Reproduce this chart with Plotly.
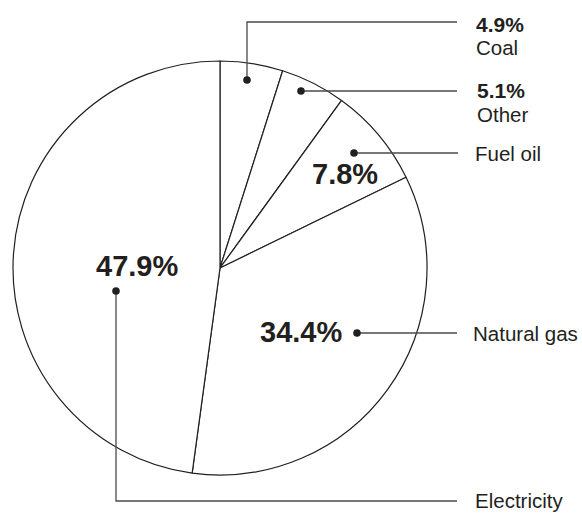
import plotly.graph_objects as go

# Share of household energy use by source, clockwise from 12 o'clock
sources = ["Coal", "Other", "Fuel oil", "Natural gas", "Electricity"]
shares = [4.9, 5.1, 7.8, 34.4, 47.9]

W, H = 582, 514
INK = "#231f20"
LEADER = "#4a4a4a"
FONT = "Liberation Sans, Arial, Helvetica, sans-serif"


def fx(x):
    return x / W


def fy(y):
    return 1 - y / H


# Pie placement (pixels): centre and radius
CX, CY, R = 220, 268, 207

# Callout geometry per source: dot, leader path, label anchor,
# and where the value is printed ("side" = next to the name, else inside the pie)
callouts = {
    "Coal": dict(path=[(247, 80), (247, 22), (457, 22)], name_at=(474, 47),
                 value_at=(474, 24), value_side=True),
    "Other": dict(path=[(301, 91), (457, 91)], name_at=(475, 115),
                  value_at=(475, 90.5), value_side=True),
    "Fuel oil": dict(path=[(354, 153), (458, 153)], name_at=(473, 153),
                     value_at=(344.7, 174), value_side=False),
    "Natural gas": dict(path=[(357, 333), (457, 333)], name_at=(471, 333),
                        value_at=(300.6, 332), value_side=False),
    "Electricity": dict(path=[(116, 291), (116, 501), (457, 501)], name_at=(473, 500),
                        value_at=(136.5, 265.5), value_side=False),
}

fig = go.Figure(
    go.Pie(
        labels=sources,
        values=shares,
        sort=False,
        direction="clockwise",
        rotation=0,
        textinfo="none",
        hoverinfo="label+percent",
        marker=dict(colors=["white"] * len(sources), line=dict(color=INK, width=1.2)),
        domain=dict(x=[fx(CX - R), fx(CX + R)], y=[fy(CY + R), fy(CY - R)]),
        showlegend=False,
    )
)

shapes = []
annotations = []
for src, val in zip(sources, shares):
    c = callouts[src]
    pts = c["path"]
    d = "M " + " L ".join(f"{fx(x)},{fy(y)}" for x, y in pts)
    shapes.append(dict(type="path", path=d, xref="paper", yref="paper",
                       line=dict(color=LEADER, width=1.3)))
    dx, dy = pts[0]
    r = 3.8
    shapes.append(dict(type="circle", xref="paper", yref="paper",
                       x0=fx(dx - r), x1=fx(dx + r), y0=fy(dy + r), y1=fy(dy - r),
                       fillcolor=INK, line=dict(color=INK, width=0)))

    nx, ny = c["name_at"]
    annotations.append(dict(x=fx(nx), y=fy(ny), xref="paper", yref="paper",
                            text=src, showarrow=False, xanchor="left", yanchor="middle",
                            font=dict(family=FONT, size=20.5, color=INK)))

    vx, vy = c["value_at"]
    label = f"<b>{val:.1f}%</b>"
    if c["value_side"]:
        annotations.append(dict(x=fx(vx), y=fy(vy), xref="paper", yref="paper",
                                text=label, showarrow=False, xanchor="left", yanchor="middle",
                                font=dict(family=FONT, size=21, color=INK)))
    else:
        annotations.append(dict(x=fx(vx), y=fy(vy), xref="paper", yref="paper",
                                text=label, showarrow=False, xanchor="center", yanchor="middle",
                                font=dict(family=FONT, size=29, color=INK)))

fig.update_layout(
    width=W,
    height=H,
    margin=dict(l=0, r=0, t=0, b=0),
    paper_bgcolor="white",
    plot_bgcolor="white",
    shapes=shapes,
    annotations=annotations,
)

fig.write_html("out.html", config={"displayModeBar": False})
